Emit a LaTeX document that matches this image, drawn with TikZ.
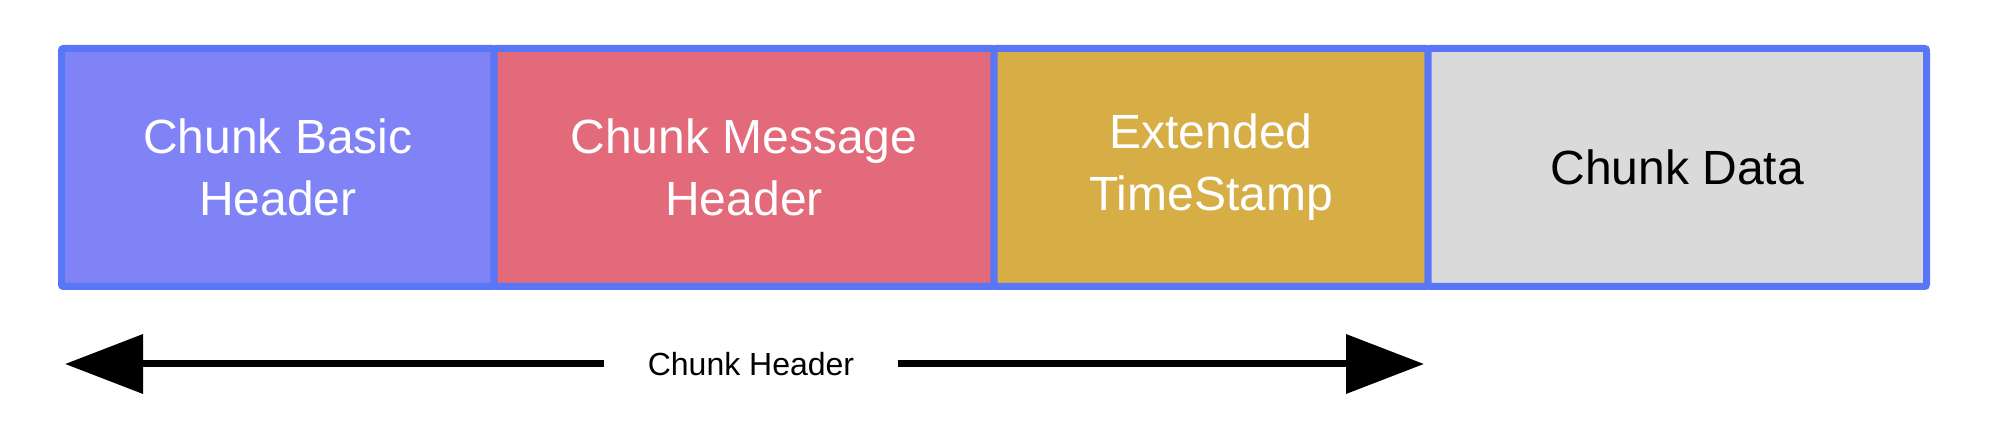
\documentclass[tikz,border=0pt]{standalone}
\usepackage{fontspec}
\setmainfont{Liberation Sans}
\usepackage{tikz}
\usepackage{xcolor}
\usetikzlibrary{positioning,arrows.meta}
\definecolor{chunkborder}{HTML}{5876F6}
\definecolor{basicfill}{HTML}{7F83F5}
\definecolor{messagefill}{HTML}{E26A7A}
\definecolor{stampfill}{HTML}{D7AE46}
\definecolor{datafill}{HTML}{DADADA}
\tikzset{
    chunk-box/.style = {draw=chunkborder, line width=3.5pt, rectangle, rounded corners=1pt, outer sep=0pt, minimum height=119pt, text=white, align=center, font=\fontsize{24}{31}\selectfont},
    header-arrow/.style = {line width=3.5pt, -{Triangle[length=39pt, width=29pt]}},
}

\begin{document}
\begin{tikzpicture}
\useasboundingbox (0,0) rectangle (1000pt,219pt);
\node [chunk-box, fill=basicfill, minimum width=216.25pt, anchor=west] (basic) at (30.75pt,135.25pt) {Chunk Basic\\Header};
\node [chunk-box, fill=messagefill, minimum width=250pt, right=0pt of basic] (message) {Chunk Message\\Header};
\node [chunk-box, fill=stampfill, minimum width=217pt, right=0pt of message] (stamp) {Extended\\TimeStamp};
\node [chunk-box, fill=datafill, minimum width=249.25pt, right=0pt of stamp, text=black] (data) {Chunk Data};

\node [font=\fontsize{16}{19}\selectfont, inner xsep=21.5pt] (hdr) at (375.5pt,37pt) {Chunk Header};
\coordinate (hdr-left) at (32.5pt,37pt);
\coordinate (hdr-right) at (712pt,37pt);
\draw [header-arrow] (hdr.west) -- (hdr-left);
\draw [header-arrow] (hdr.east) -- (hdr-right);
\end{tikzpicture}
\end{document}
